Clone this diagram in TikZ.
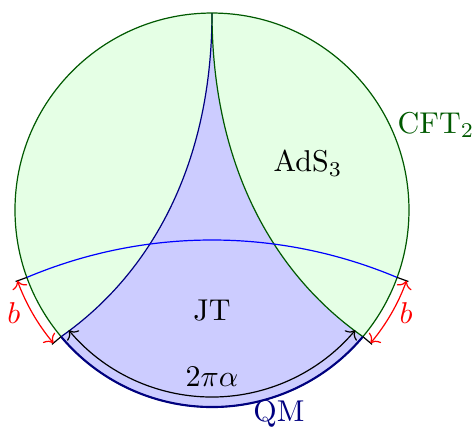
\documentclass[tikz,border=0pt]{standalone}
\usepackage{amsmath}
\usepackage{xcolor}
\usetikzlibrary{calc,arrows.meta}
\colorlet{bulkline}{green!35!black}
\colorlet{qmline}{blue!50!black}

\begin{document}
\begin{tikzpicture}[line width=0.4pt,
  dimline/.style={red,<->},
  extline/.style={black}]
\useasboundingbox (-2.475,-2.522) rectangle (3.059,2.452);
\def\R{2.3}
\coordinate (top) at (90:\R);
\coordinate (cl) at (220:\R);
\coordinate (cr) at (320:\R);
% bulk disc and JT region
\fill[green!10] (0,0) circle (\R);
\fill[blue!20] (top) .. controls (0,0.549) and (-0.7005,-0.7355) .. (cl)
  arc[start angle=220,end angle=320,radius=\R]
  .. controls (0.7005,-0.7355) and (0,0.549) .. (top) -- cycle;
\draw[bulkline] (0,0) circle (\R);
\draw[qmline] (top) .. controls (0,0.549) and (-0.7005,-0.7355) .. (cl);
\draw[bulkline] (top) .. controls (0,0.549) and (0.7005,-0.7355) .. (cr);
\draw[blue] (200:\R) arc[start angle=112.86,end angle=67.14,radius=5.562];
\draw[qmline,line width=0.7pt] (cl) arc[start angle=220,end angle=320,radius=\R];
\draw[<->] (220:2.183) arc[start angle=220,end angle=320,radius=2.183];
% widths b
\foreach \a in {200,220,320,340}
  \draw[extline] (\a:\R) -- (\a:2.44);
\draw[dimline] (200:2.417) arc[start angle=200,end angle=220,radius=2.417];
\draw[dimline] (320:2.417) arc[start angle=320,end angle=340,radius=2.417];
% labels
\node[bulkline] (cft) at (2.615,0.992) {CFT$_2$};
\node (ads) at (1.121,0.549) {AdS$_3$};
\node (jt) at (0,-1.168) {JT};
\node (alpha) at (0,-1.95) {$2\pi\alpha$};
\node[qmline] (qm) at (0.782,-2.382) {QM};
\node[red] (bl) at (-2.312,-1.203) {$b$};
\node[red] (br) at (2.265,-1.203) {$b$};
\end{tikzpicture}
\end{document}
